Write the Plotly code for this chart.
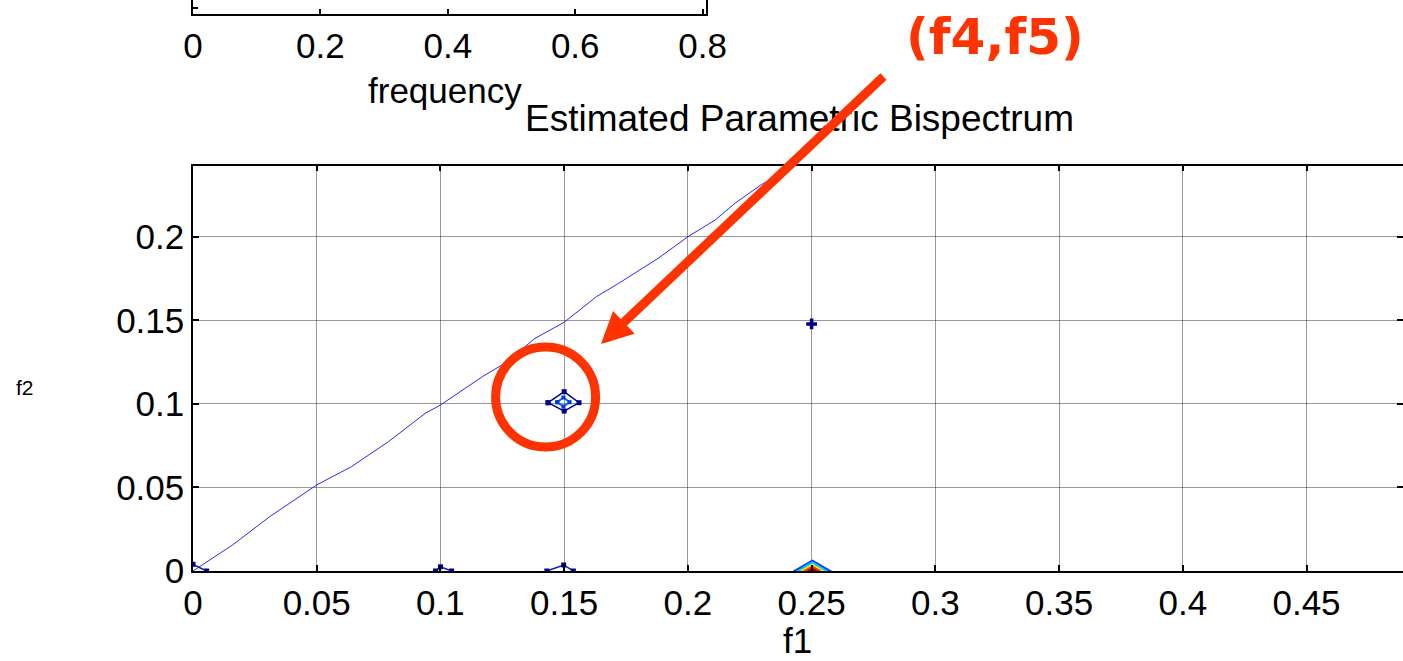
import plotly.graph_objects as go

# ---------------- data ----------------
ridge_f1 = [0, 0.016, 0.031, 0.05, 0.064, 0.079, 0.094, 0.1, 0.117, 0.127, 0.138,
            0.15, 0.163, 0.172, 0.188, 0.2, 0.211, 0.219, 0.2305, 0.237, 0.2435]
ridge_f2 = [0, 0.0156, 0.0325, 0.0515, 0.0624, 0.0774, 0.0945, 0.0993, 0.1163, 0.1252, 0.139,
            0.1488, 0.1641, 0.1721, 0.1871, 0.2, 0.21, 0.22, 0.232, 0.236, 0.2425]

peak_outer_f1 = [0.1435, 0.15, 0.156, 0.15, 0.1435]
peak_outer_f2 = [0.1007, 0.1073, 0.1007, 0.0957, 0.1007]
peak_inner_f1 = [0.1472, 0.1497, 0.1522, 0.1497, 0.1472]
peak_inner_f2 = [0.1010, 0.1038, 0.1010, 0.0984, 0.1010]

spot_f1 = [0.25]
spot_f2 = [0.1478]

edge0_f1 = [0, 0.0055]
edge0_f2 = [0.004, 0]
edge1_f1 = [0.098, 0.1, 0.1045]
edge1_f2 = [0, 0.0025, 0]
edge2_f1 = [0.143, 0.1498, 0.1537]
edge2_f2 = [0, 0.0036, 0]

tri_half = [0.0077, 0.0062, 0.0048, 0.0035, 0.002]
tri_height = [0.0066, 0.0055, 0.0042, 0.003, 0.0018]
tri_colors = ["#0040ff", "#00ccff", "#ffdd00", "#ff3300", "#a00000"]
tri_center = 0.2503

x_ticks = [0, 0.05, 0.1, 0.15, 0.2, 0.25, 0.3, 0.35, 0.4, 0.45]
x_ticklabels = ["0", "0.05", "0.1", "0.15", "0.2", "0.25", "0.3", "0.35", "0.4", "0.45"]
y_ticks = [0, 0.05, 0.1, 0.15, 0.2]
y_ticklabels = ["0", "0.05", "0.1", "0.15", "0.2"]
top_x_ticks = [0, 0.2, 0.4, 0.6, 0.8]
top_x_ticklabels = ["0", "0.2", "0.4", "0.6", "0.8"]

# ---------------- figure ----------------
FONT = "Liberation Sans, Arial, Helvetica, sans-serif"
RED = "rgb(255,51,0)"
NAVY = "#00008f"

fig = go.Figure()

fig.add_trace(go.Scatter(x=ridge_f1, y=ridge_f2, mode="lines",
                         line=dict(color="rgb(40,40,255)", width=1), hoverinfo="skip"))

for i in range(len(tri_half)):
    fig.add_trace(go.Scatter(
        x=[tri_center - tri_half[i], tri_center, tri_center + tri_half[i], tri_center - tri_half[i]],
        y=[0, tri_height[i], 0, 0],
        mode="lines", fill="toself", fillcolor=tri_colors[i],
        line=dict(color=tri_colors[i], width=1), hoverinfo="skip"))

fig.add_trace(go.Scatter(x=peak_outer_f1, y=peak_outer_f2, mode="lines+markers",
                         line=dict(color=NAVY, width=1.5),
                         marker=dict(symbol="square", size=5, color=NAVY), hoverinfo="skip"))
fig.add_trace(go.Scatter(x=peak_inner_f1, y=peak_inner_f2, mode="lines+markers",
                         line=dict(color="rgb(0,110,255)", width=2),
                         marker=dict(symbol="square", size=4, color="rgb(0,60,220)"), hoverinfo="skip"))
fig.add_trace(go.Scatter(x=spot_f1, y=spot_f2, mode="markers",
                         marker=dict(symbol="cross", size=9, color=NAVY), hoverinfo="skip"))
for ex, ey in [(edge0_f1, edge0_f2), (edge1_f1, edge1_f2), (edge2_f1, edge2_f2)]:
    fig.add_trace(go.Scatter(x=ex, y=ey, mode="lines+markers",
                             line=dict(color="rgb(20,20,200)", width=1.5),
                             marker=dict(symbol="square", size=5, color=NAVY), hoverinfo="skip"))

fig.add_trace(go.Scatter(x=[], y=[], xaxis="x2", yaxis="y2", hoverinfo="skip"))

axis_common = dict(showline=True, linecolor="black", linewidth=1.5, mirror="ticks",
                   ticks="inside", ticklen=6, tickwidth=2, tickcolor="black",
                   zeroline=False, tickfont=dict(family=FONT, size=35, color="black"))

fig.update_layout(
    template="none",
    width=1403, height=661, autosize=False,
    margin=dict(l=193, r=0, t=0, b=90, pad=0),
    paper_bgcolor="white", plot_bgcolor="white",
    font=dict(family=FONT, color="black"),
    showlegend=False,
    xaxis=dict(domain=[0, 1], range=[0, 0.489], tickmode="array",
               tickvals=x_ticks, ticktext=x_ticklabels,
               showgrid=True, gridcolor="rgba(0,0,0,0.4)", gridwidth=1,
               anchor="y", **axis_common),
    yaxis=dict(domain=[0, 0.7098], range=[0, 0.2425], tickmode="array",
               tickvals=y_ticks, ticktext=y_ticklabels,
               showgrid=True, gridcolor="rgba(0,0,0,0.4)", gridwidth=1,
               anchor="x", **axis_common),
    xaxis2=dict(domain=[0, 0.4238], range=[0, 0.805], tickmode="array",
                tickvals=top_x_ticks, ticktext=top_x_ticklabels,
                showline=True, linecolor="black", linewidth=1.5, mirror=False,
                ticks="inside", ticklen=5, tickwidth=2, tickcolor="black",
                zeroline=False, showgrid=False, anchor="y2",
                tickfont=dict(family=FONT, size=35, color="black")),
    yaxis2=dict(domain=[0.9755, 1], range=[0, 1], tickmode="array",
                tickvals=[0.43], ticktext=["10"],
                showline=True, linecolor="black", linewidth=1.5, mirror=True,
                ticks="inside", ticklen=5, tickwidth=2, tickcolor="black",
                zeroline=False, showgrid=False, anchor="x2",
                tickfont=dict(family=FONT, size=35, color="black")),
)

annotations = [
    dict(text="frequency", x=445, y=90, font=dict(family=FONT, size=35, color="black")),
    dict(text="Estimated Parametric Bispectrum", x=800, y=118, font=dict(family=FONT, size=37, color="black")),
    dict(text="f1", x=797, y=640, font=dict(family=FONT, size=35, color="black")),
    dict(text="f2", x=25, y=387, font=dict(family=FONT, size=21, color="black")),
    dict(text="<b>(f4,f5)</b>", x=995, y=37,
         font=dict(family="Comic Sans MS, DejaVu Sans, sans-serif", size=50, color=RED)),
]
for a in annotations:
    px, py = a.pop("x"), a.pop("y")
    fig.add_annotation(xref="paper", yref="paper", x=(px - 193) / 1210, y=(571 - py) / 571,
                       xanchor="center", yanchor="middle", showarrow=False, **a)

tip_x, tip_y = 601, 344
fig.add_annotation(xref="paper", yref="paper", x=(tip_x - 193) / 1210, y=(571 - tip_y) / 571,
                   ax=885 - tip_x, ay=75 - tip_y, text="", showarrow=True,
                   arrowhead=2, arrowsize=0.7, arrowwidth=9, arrowcolor=RED)

fig.add_shape(type="circle", xref="x", yref="y",
              x0=0.1425 - 0.0202, x1=0.1425 + 0.0202, y0=0.1041 - 0.0299, y1=0.1041 + 0.0299,
              line=dict(color=RED, width=9))

fig.write_html("out.html", config={"responsive": False},
               post_script="document.body.style.margin='0';document.body.style.overflow='hidden';")
